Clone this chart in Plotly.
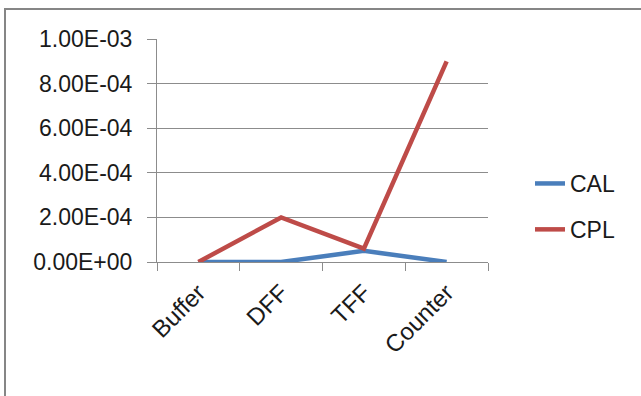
import plotly.graph_objects as go

categories = ["Buffer", "DFF", "TFF", "Counter"]
cal = [0.0, 0.0, 5.0e-5, 0.0]
cpl = [0.0, 2.0e-4, 6.0e-5, 9.0e-4]
y_ticks = [0.0, 2e-4, 4e-4, 6e-4, 8e-4, 1e-3]
y_tick_text = ["0.00E+00", "2.00E-04", "4.00E-04", "6.00E-04", "8.00E-04", "1.00E-03"]

FONT = "Liberation Sans"
GRID = "#8c8c8c"

fig = go.Figure()
fig.add_trace(go.Scatter(x=categories, y=cal, mode="lines", name="CAL",
                         legendgroup="a",
                         line=dict(color="#4A7EBB", width=4.5)))
fig.add_trace(go.Scatter(x=categories, y=cpl, mode="lines", name="CPL",
                         legendgroup="b",
                         line=dict(color="#BE4B48", width=4.5)))

W, H = 641, 396
L, R, T, B = 157, 153, 39, 134
pw, ph = W - L - R, H - T - B

fig.update_layout(
    width=W, height=H,
    margin=dict(l=L, r=R, t=T, b=B),
    paper_bgcolor="white", plot_bgcolor="white",
    font=dict(family=FONT, size=22, color="#1a1a1a"),
    showlegend=True,
    legend=dict(x=(530 - L) / pw, y=(262 - 162) / ph, xanchor="left", yanchor="top",
                font=dict(family=FONT, size=23),
                traceorder="grouped", tracegroupgap=13,
                bgcolor="rgba(0,0,0,0)", itemwidth=30),
    xaxis=dict(
        type="category", tickangle=-45, tickson="boundaries",
        ticks="outside", ticklen=8, tickcolor=GRID, tickwidth=1,
        showline=True, linecolor=GRID, linewidth=1,
        showgrid=False, zeroline=False,
        tickfont=dict(family=FONT, size=24),
        ticklabelstandoff=6,
        range=[-0.5, 3.5],
    ),
    yaxis=dict(
        range=[0, 1e-3], tickvals=y_ticks, ticktext=y_tick_text,
        ticks="outside", ticklen=9, tickcolor=GRID, tickwidth=1,
        showline=True, linecolor=GRID, linewidth=1,
        showgrid=True, gridcolor=GRID, gridwidth=1,
        zeroline=False,
        tickfont=dict(family=FONT, size=23),
        ticklabelstandoff=10,
    ),
    shapes=[dict(
        type="rect", xref="paper", yref="paper",
        x0=(5 - L) / pw, x1=(W + 20 - L) / pw,
        y0=(262 - (H + 20)) / ph, y1=(262 - 9) / ph,
        line=dict(color="#868686", width=2), fillcolor="rgba(0,0,0,0)",
        layer="below",
    )],
)

fig.write_html("out.html")
